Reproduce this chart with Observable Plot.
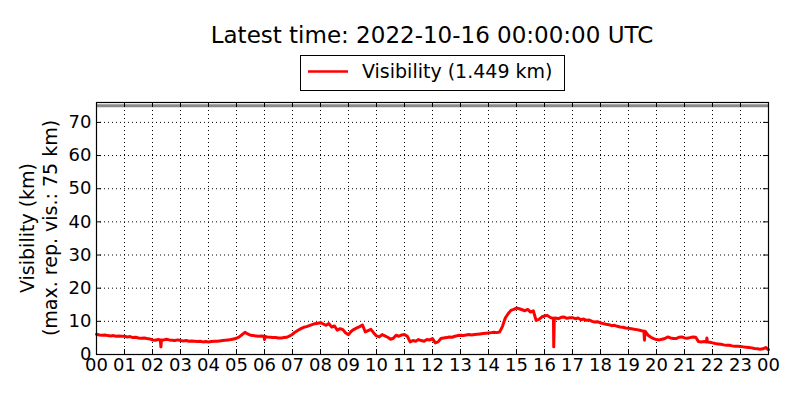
<!DOCTYPE html>
<html><head><meta charset="utf-8">
<script src="https://cdn.jsdelivr.net/npm/d3@7"></script>
<script src="https://cdn.jsdelivr.net/npm/@observablehq/plot@0.6"></script>
<style>body{margin:0;background:#fff}#chart{width:800px;height:400px}</style>
</head><body><div id="chart"></div>
<script>
const hours = [
  0.0,0.1,0.2,0.3,0.4,0.5,0.6,0.7,0.8,0.9,
  1.0,1.1,1.2,1.3,1.4,1.5,1.6,1.7,1.8,1.9,
  2.0,2.1,2.2,2.28,2.3,2.32,2.4,2.5,2.6,2.7,2.8,2.9,
  3.0,3.1,3.2,3.3,3.4,3.5,3.6,3.7,3.8,3.9,
  4.0,4.1,4.2,4.3,4.4,4.5,4.6,4.7,4.8,4.9,
  5.0,5.1,5.2,5.3,5.4,5.5,5.6,5.7,5.8,5.9,5.98,
  6.0,6.02,6.1,6.2,6.3,6.4,6.5,6.6,6.7,6.8,6.9,
  7.0,7.1,7.2,7.3,7.4,7.5,7.6,7.7,7.8,7.9,
  8.0,8.1,8.2,8.3,8.4,8.5,8.6,8.7,8.8,8.9,
  9.0,9.1,9.2,9.3,9.4,9.5,9.6,9.7,9.8,9.9,
  10.0,10.1,10.2,10.3,10.4,10.5,10.6,10.7,10.8,10.9,
  11.0,11.1,11.2,11.3,11.4,11.5,11.6,11.7,11.8,11.9,
  12.0,12.1,12.2,12.3,12.4,12.5,12.6,12.7,12.8,12.9,
  13.0,13.1,13.2,13.3,13.4,13.5,13.6,13.7,13.8,13.9,
  14.0,14.1,14.2,14.3,14.4,14.5,14.6,14.7,14.8,14.9,
  15.0,15.1,15.2,15.3,15.4,15.5,15.6,15.7,15.8,15.9,
  16.0,16.1,16.2,16.3,16.32,16.33,16.35,16.4,16.5,16.6,16.7,16.8,16.9,
  17.0,17.1,17.2,17.3,17.4,17.5,17.6,17.7,17.8,17.9,
  18.0,18.1,18.2,18.3,18.4,18.5,18.6,18.7,18.8,18.9,
  19.0,19.1,19.2,19.3,19.4,19.5,19.55,19.57,19.59,19.7,19.8,19.9,
  20.0,20.1,20.2,20.3,20.4,20.5,20.6,20.7,20.8,20.9,
  21.0,21.1,21.2,21.3,21.4,21.5,21.6,21.7,21.78,21.8,21.82,21.9,
  22.0,22.1,22.2,22.3,22.4,22.5,22.6,22.7,22.8,22.9,
  23.0,23.1,23.2,23.3,23.4,23.5,23.6,23.7,23.8,23.9,
  24.0
];
const vis = [
  6.1,5.9,5.8,5.9,5.7,5.6,5.7,5.5,5.6,5.5,
  5.5,5.3,5.4,5.1,5.2,5.0,4.9,5.0,4.8,4.7,
  4.4,4.3,4.5,4.4,2.3,4.4,4.4,4.6,4.4,4.3,4.2,4.4,
  4.2,4.1,4.2,4.0,4.1,4.0,3.9,4.0,3.8,3.9,
  3.8,3.9,4.0,4.0,4.1,4.2,4.3,4.4,4.5,4.7,
  4.9,5.3,6.0,6.7,6.2,5.8,5.7,5.6,5.5,5.6,5.5,
  4.5,5.4,5.3,5.2,5.1,5.1,5.0,5.0,5.1,5.2,5.6,
  6.1,6.8,7.3,7.8,8.2,8.4,8.7,9.0,9.3,9.4,
  9.6,9.2,8.8,9.3,8.3,8.6,7.3,7.8,7.5,6.5,
  6.0,7.0,7.6,8.0,8.4,8.9,6.8,7.2,7.6,6.5,
  5.6,5.3,6.0,5.6,5.2,4.6,4.9,5.8,5.5,5.9,
  6.0,5.5,3.8,4.2,4.0,4.5,4.2,4.0,4.5,4.4,
  4.8,3.5,3.8,4.8,5.0,5.1,5.3,5.2,5.5,5.7,
  5.8,5.7,5.9,6.0,5.9,6.0,6.1,6.2,6.3,6.4,
  6.5,6.6,6.7,6.6,6.8,8.5,11.0,12.3,13.3,13.6,
  14.0,13.8,13.5,13.2,13.6,12.8,13.2,10.3,10.6,11.3,
  11.6,11.8,11.2,10.9,11.0,2.3,10.9,11.0,10.8,11.2,11.3,10.9,11.1,
  11.1,10.8,11.0,10.5,10.7,10.3,10.4,10.0,9.8,9.9,
  9.5,9.3,9.1,9.0,8.7,8.8,8.5,8.3,8.2,8.0,
  7.9,7.8,7.6,7.5,7.3,7.1,7.0,4.3,7.0,5.8,5.2,4.8,
  4.5,4.4,4.6,4.8,5.3,5.0,4.8,4.8,5.2,5.3,
  5.0,4.9,5.1,5.3,5.2,3.9,3.8,3.9,3.8,5.0,3.8,3.7,
  3.5,3.3,3.2,3.1,2.9,2.8,2.8,2.6,2.5,2.5,
  2.4,2.3,2.2,2.1,2.0,1.8,1.7,1.6,1.7,2.1,
  1.45
];
const xTicks = [0,1,2,3,4,5,6,7,8,9,10,11,12,13,14,15,16,17,18,19,20,21,22,23,24];
const xTickLabels = ["00","01","02","03","04","05","06","07","08","09","10","11","12","13","14","15","16","17","18","19","20","21","22","23","00"];
const yTicks = [0,10,20,30,40,50,60,70];
const yDomain = [0, 76];
const maxReportable = 75;
const titleText = "Latest time: 2022-10-16 00:00:00 UTC";
const legendLabel = "Visibility (1.449 km)";
const yLabelLines = ["Visibility (km)", "(max. rep. vis.: 75 km)"];

const data = hours.map((h, i) => ({h, v: vis[i]}));
const font = "'DejaVu Sans', sans-serif";
const W = 800, H = 400, mL = 96, mR = 32, mT = 102, mB = 46;
const tickPx = 5;
const tkY = tickPx * (yDomain[1] - yDomain[0]) / (H - mT - mB);
const tkX = tickPx * 24 / (W - mL - mR);
const dotted = {stroke: "black", strokeOpacity: 1, strokeWidth: 1, strokeDasharray: "1,3"};

const svg = Plot.plot({
  width: W, height: H,
  marginLeft: mL, marginRight: mR, marginTop: mT, marginBottom: mB,
  style: {fontFamily: font, fontSize: "18px", background: "white", color: "black", overflow: "visible"},
  x: {domain: [0, 24], label: null},
  y: {domain: yDomain, label: null},
  marks: [
    Plot.gridX(xTicks, dotted),
    Plot.gridY(yTicks, dotted),
    Plot.ruleY([maxReportable], {stroke: "#8a8a8a", strokeWidth: 3}),
    Plot.line(data, {x: "h", y: "v", stroke: "red", strokeWidth: 3, strokeLinejoin: "round"}),
    Plot.ruleX(xTicks, {y1: yDomain[0], y2: yDomain[0] + tkY, stroke: "black"}),
    Plot.ruleX(xTicks, {y1: yDomain[1], y2: yDomain[1] - tkY, stroke: "black"}),
    Plot.ruleY(yTicks, {x1: 0, x2: tkX, stroke: "black"}),
    Plot.ruleY(yTicks, {x1: 24, x2: 24 - tkX, stroke: "black"}),
    Plot.frame({stroke: "black", strokeWidth: 1.2}),
    Plot.axisX(xTicks, {tickSize: 0, tickPadding: 4, fontSize: 18, label: null,
      tickFormat: d => xTickLabels[xTicks.indexOf(d)]}),
    Plot.axisY(yTicks, {tickSize: 0, tickPadding: 5, fontSize: 18, label: null})
  ]
});

const s = d3.select(svg);
const cx = (mL + (W - mR)) / 2;
s.append("text").attr("x", cx).attr("y", 42.5).attr("text-anchor", "middle")
  .attr("font-size", 23).attr("fill", "black").attr("font-family", font).text(titleText);
const lg = s.append("g");
lg.append("rect").attr("x", 300.5).attr("y", 55.5).attr("width", 264).attr("height", 35)
  .attr("fill", "white").attr("stroke", "black").attr("stroke-width", 1);
lg.append("line").attr("x1", 308).attr("x2", 348).attr("y1", 71.5).attr("y2", 71.5)
  .attr("stroke", "red").attr("stroke-width", 2.6);
lg.append("text").attr("x", 362).attr("y", 78).attr("font-size", 19).attr("fill", "black")
  .attr("text-anchor", "start").attr("font-family", font).text(legendLabel);
const cy = (mT + (H - mB)) / 2;
[27, 50].forEach((x, i) => {
  s.append("text").attr("transform", `translate(${x},${cy}) rotate(-90)`)
    .attr("text-anchor", "middle").attr("dominant-baseline", "central")
    .attr("font-size", 19).attr("fill", "black").attr("font-family", font).text(yLabelLines[i]);
});
document.getElementById("chart").appendChild(svg);
</script>
</body></html>
